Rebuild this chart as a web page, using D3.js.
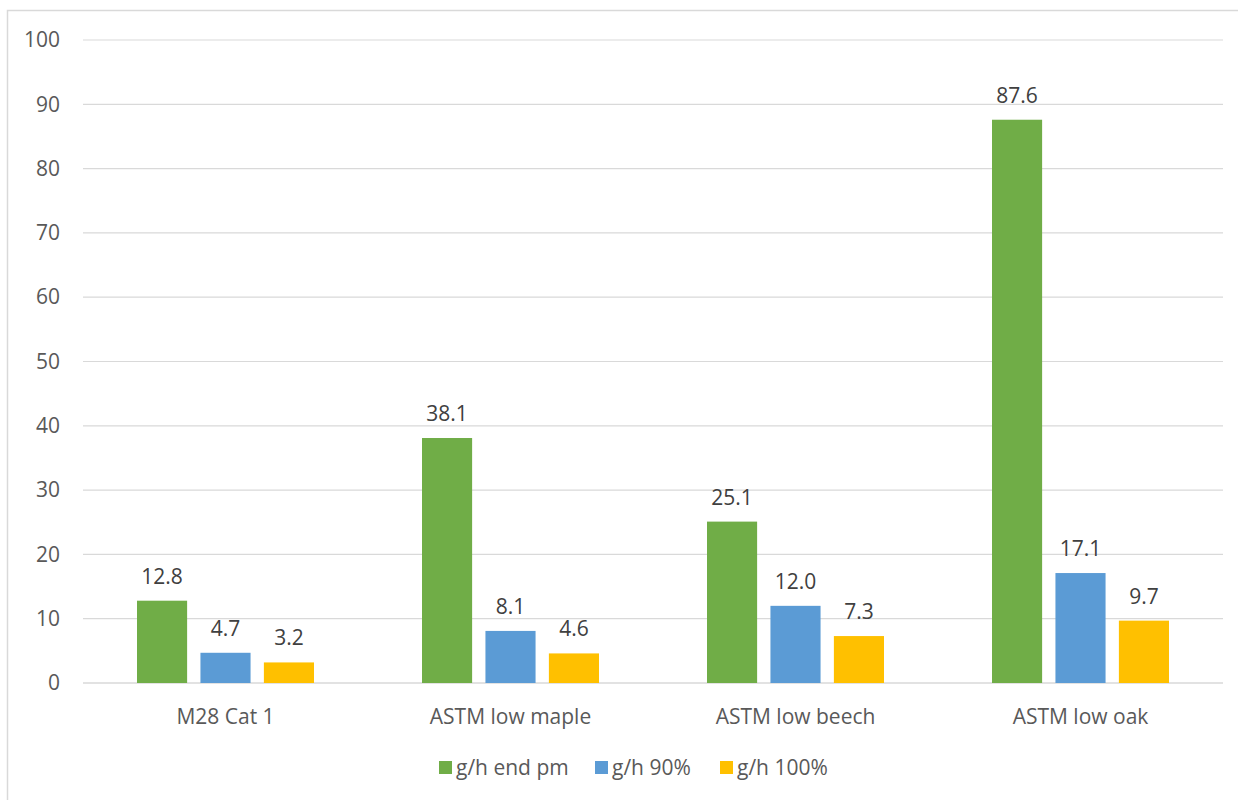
<!DOCTYPE html>
<html>
<head>
<meta charset="utf-8">
<script src="https://cdn.jsdelivr.net/npm/d3@7"></script>
<style>
  body { margin: 0; background: #fff; }
  text { font-family: "Open Sans", "Liberation Sans", sans-serif; }
</style>
</head>
<body>
<div id="chart"></div>
<script>
var categories = ["M28 Cat 1", "ASTM low maple", "ASTM low beech", "ASTM low oak"];
var seriesNames = ["g/h end pm", "g/h 90%", "g/h 100%"];
var endPm = [12.8, 38.1, 25.1, 87.6];
var g90 = [4.7, 8.1, 12.0, 17.1];
var g100 = [3.2, 4.6, 7.3, 9.7];
var yTicks = [0, 10, 20, 30, 40, 50, 60, 70, 80, 90, 100];
var colors = ["#70ad47", "#5b9bd5", "#ffc000"];

var seriesValues = [endPm, g90, g100];

var width = 1238,
  height = 800,
  margin = {left: 83, right: 15, top: 40, bottom: 117};

var svg = d3.select("#chart")
  .append("svg")
  .attr("width", width)
  .attr("height", height);

// outer chart border
svg.append("rect")
  .attr("x", 7.5).attr("y", 10.5)
  .attr("width", 1240).attr("height", 800)
  .attr("fill", "none")
  .attr("stroke", "#d9d9d9")
  .attr("stroke-width", 1.5);

var chart = svg.append("g")
  .attr("transform", "translate(" + margin.left + "," + margin.top + ")");

var plotW = 1140,
  plotH = 643;

var x0 = d3.scaleBand()
  .domain(categories)
  .range([0, plotW]);

var x1 = d3.scaleBand()
  .domain(seriesNames)
  .range([54, 231])
  .paddingInner(0.21);

var y = d3.scaleLinear()
  .domain([0, 100])
  .range([plotH, 0]);

// gridlines
chart.append("g")
  .selectAll("line")
  .data(yTicks)
  .enter().append("line")
  .attr("x1", 0).attr("x2", plotW)
  .attr("y1", function (d) { return y(d); })
  .attr("y2", function (d) { return y(d); })
  .attr("stroke", "#d9d9d9")
  .attr("stroke-width", function (d) { return d === 0 ? 1.5 : 1.2; });

// y axis labels
var yAxis = chart.append("g")
  .attr("transform", "translate(-23,0)")
  .call(d3.axisLeft(y).tickValues(yTicks).tickSize(0).tickPadding(0));
yAxis.select(".domain").remove();
yAxis.selectAll("text")
  .attr("fill", "#595959")
  .style("font-size", "21px");

var rows = [];
categories.forEach(function (c, i) {
  seriesNames.forEach(function (s, j) {
    rows.push({cat: c, series: s, value: seriesValues[j][i], color: colors[j]});
  });
});

var groups = chart.selectAll(".bar")
  .data(rows)
  .enter().append("g")
  .attr("class", "bar");

groups.append("rect")
  .attr("x", function (d) { return x0(d.cat) + x1(d.series); })
  .attr("width", x1.bandwidth())
  .attr("y", function (d) { return y(d.value); })
  .attr("height", function (d) { return plotH - y(d.value); })
  .attr("fill", function (d) { return d.color; });

groups.append("text")
  .attr("x", function (d) { return x0(d.cat) + x1(d.series) + x1.bandwidth() / 2; })
  .attr("y", function (d) { return y(d.value) - 17; })
  .attr("text-anchor", "middle")
  .attr("fill", "#404040")
  .style("font-size", "21px")
  .text(function (d) { return d.value.toFixed(1); });

// category labels
var xAxis = chart.append("g")
  .attr("transform", "translate(0," + plotH + ")")
  .call(d3.axisBottom(x0).tickSize(0).tickPadding(26));
xAxis.select(".domain").remove();
xAxis.selectAll("text")
  .attr("fill", "#595959")
  .style("font-size", "21px");

// legend
var legendX = [439, 595, 720];
var legend = svg.append("g")
  .selectAll("g")
  .data(seriesNames)
  .enter().append("g")
  .attr("transform", function (d, i) { return "translate(" + legendX[i] + ",761)"; });

legend.append("rect")
  .attr("width", 13).attr("height", 13)
  .attr("fill", function (d, i) { return colors[i]; });

legend.append("text")
  .attr("x", 17).attr("y", 14)
  .attr("fill", "#595959")
  .style("font-size", "21px")
  .text(function (d) { return d; });
</script>
</body>
</html>
